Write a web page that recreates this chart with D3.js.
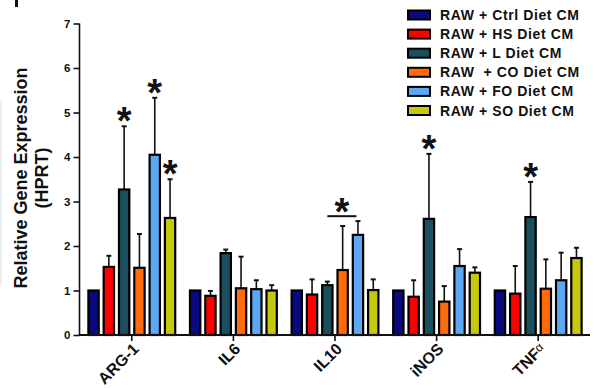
<!DOCTYPE html>
<html>
<head>
<meta charset="utf-8">
<script src="https://cdn.jsdelivr.net/npm/d3@7"></script>
<style>
  body { margin: 0; background: #fff; }
  svg { display: block; font-family: "Liberation Sans", Arial, sans-serif; }
</style>
</head>
<body>
<div id="chart"></div>
<script>
// genes on the x axis
var genes = ["ARG-1", "IL6", "IL10", "iNOS", "TNFα"];
var legendLabels = ["RAW + Ctrl Diet CM", "RAW + HS Diet CM", "RAW + L Diet CM",
                    "RAW  + CO Diet CM", "RAW + FO Diet CM", "RAW + SO Diet CM"];
var colors = ["#0a0a80", "#ff0000", "#1b4f5e", "#ff6a0a", "#5ca8f5", "#c6c80c"];

// means and upper error (SEM) per diet, one value per gene
var ctrl    = [1, 1, 1, 1, 1],               ctrlErr = [0, 0, 0, 0, 0];
var hs      = [1.53, 0.88, 0.91, 0.86, 0.93], hsErr   = [0.25, 0.11, 0.34, 0.37, 0.62];
var lDiet   = [3.27, 1.84, 1.12, 2.61, 2.65], lErr    = [1.42, 0.08, 0.08, 1.46, 0.79];
var co      = [1.51, 1.05, 1.46, 0.75, 1.04], coErr   = [0.76, 0.71, 0.99, 0.35, 0.66];
var fo      = [4.05, 1.03, 2.25, 1.55, 1.23], foErr   = [1.28, 0.20, 0.31, 0.38, 0.62];
var so      = [2.63, 1.00, 1.01, 1.40, 1.73], soErr   = [0.87, 0.12, 0.24, 0.12, 0.23];

var yTicks = [0, 1, 2, 3, 4, 5, 6, 7];
// significance marks: [gene, series index]
var stars = [["ARG-1", 2], ["ARG-1", 4], ["ARG-1", 5], ["iNOS", 2], ["TNFα", 2]];
// bracket with one star: [gene, from series, to series, level]
var brackets = [["IL10", 3, 4, 2.67]];

var means = [ctrl, hs, lDiet, co, fo, so];
var errs = [ctrlErr, hsErr, lErr, coErr, foErr, soErr];

var W = 594, H = 389;
var svg = d3.select("#chart").append("svg")
    .attr("width", W).attr("height", H);
svg.append("rect").attr("width", W).attr("height", H).attr("fill", "#fff");

// bits of the neighbouring panel left in the crop
svg.append("rect").attr("x", 15).attr("y", 0).attr("width", 3).attr("height", 7).attr("fill", "#111");
svg.append("line").attr("x1", 1).attr("x2", 1).attr("y1", 100).attr("y2", 285)
    .attr("stroke", "#ddd").attr("stroke-width", 1);

var y = d3.scaleLinear().domain([0, 7]).range([335, 23.5]);
var x0 = d3.scaleBand().domain(genes).range([81, 589]);
var x1 = d3.scaleBand().domain(d3.range(6)).range([0, x0.bandwidth()])
    .paddingInner(0.22).paddingOuter(0.43);

var data = [];
genes.forEach(function(g, gi) {
  means.forEach(function(m, si) {
    data.push({gene: g, s: si, v: m[gi], e: errs[si][gi]});
  });
});

function cx(d) { return x0(d.gene) + x1(d.s) + x1.bandwidth() / 2; }

// error bars (drawn first, bars sit on top)
var eb = svg.append("g").selectAll("g")
  .data(data.filter(function(d) { return d.e > 0; }))
  .enter().append("g");
eb.append("line")
  .attr("x1", cx).attr("x2", cx)
  .attr("y1", function(d) { return y(d.v); })
  .attr("y2", function(d) { return y(d.v + d.e); })
  .attr("stroke", "#111").attr("stroke-width", 1.6);
eb.append("line")
  .attr("x1", function(d) { return cx(d) - 2.5; })
  .attr("x2", function(d) { return cx(d) + 2.5; })
  .attr("y1", function(d) { return y(d.v + d.e); })
  .attr("y2", function(d) { return y(d.v + d.e); })
  .attr("stroke", "#111").attr("stroke-width", 2);

svg.append("g").selectAll("rect")
  .data(data).enter().append("rect")
  .attr("x", function(d) { return x0(d.gene) + x1(d.s) + 0.8; })
  .attr("width", x1.bandwidth() - 1.6)
  .attr("y", function(d) { return y(d.v); })
  .attr("height", function(d) { return y(0) - y(d.v); })
  .attr("fill", function(d) { return colors[d.s]; })
  .attr("stroke", "#000").attr("stroke-width", 2.2);

// y axis
var yAxis = svg.append("g").attr("transform", "translate(79.5,0)")
  .call(d3.axisLeft(y).tickValues(yTicks).tickSize(6).tickPadding(3).tickFormat(d3.format("d")));
yAxis.select(".domain").attr("stroke", "#111").attr("stroke-width", 1.6).attr("d", "M0," + y(7) + "V" + y(0));
yAxis.selectAll(".tick line").attr("stroke", "#111").attr("stroke-width", 1.6);
yAxis.selectAll(".tick text").attr("font-size", 11.5).attr("font-weight", "bold")
  .attr("fill", "#111").attr("font-family", "Liberation Sans, Arial, sans-serif");

// x axis
var xAxis = svg.append("g").attr("transform", "translate(0," + y(0) + ")")
  .call(d3.axisBottom(x0).tickSize(6).tickFormat(""));
xAxis.select(".domain").attr("stroke", "#111").attr("stroke-width", 2).attr("d", "M79,0H590");
xAxis.selectAll(".tick line").attr("stroke", "#111").attr("stroke-width", 1.6);

svg.append("g").selectAll("text")
  .data(genes).enter().append("text")
  .attr("transform", function(g) {
    return "translate(" + (x0(g) + x0.bandwidth() / 2 + 8) + "," + (y(0) + 15) + ") rotate(-45)";
  })
  .attr("text-anchor", "end")
  .attr("font-size", 16).attr("font-weight", "bold").attr("fill", "#111")
  .each(function(g) {
    var t = d3.select(this);
    if (g === "TNFα") {
      t.append("tspan").text("TNF");
      t.append("tspan").attr("font-size", 12).attr("font-weight", "normal").attr("dy", -3).text("α");
    } else {
      t.text(g);
    }
  });

// y title
svg.append("text")
  .attr("transform", "translate(27,178) rotate(-90)")
  .attr("text-anchor", "middle")
  .attr("font-size", 18).attr("font-weight", "bold").attr("fill", "#111")
  .text("Relative Gene Expression");
svg.append("text")
  .attr("transform", "translate(48,178) rotate(-90)")
  .attr("text-anchor", "middle")
  .attr("font-size", 18).attr("font-weight", "bold").attr("fill", "#111")
  .text("(HPRT)");

// stars
svg.append("g").selectAll("text")
  .data(stars).enter().append("text")
  .attr("x", function(s) { return cx({gene: s[0], s: s[1]}); })
  .attr("y", function(s) {
    var gi = genes.indexOf(s[0]);
    return y(means[s[1]][gi] + errs[s[1]][gi]) + 8;
  })
  .attr("text-anchor", "middle")
  .attr("font-size", 38).attr("font-weight", "bold").attr("fill", "#111")
  .text("*");

var step = x1.step();
brackets.forEach(function(b) {
  var xa = cx({gene: b[0], s: b[1]}) - step, xb = cx({gene: b[0], s: b[2]}) - step * 0.1;
  svg.append("line")
    .attr("x1", xa).attr("x2", xb).attr("y1", y(b[3])).attr("y2", y(b[3]))
    .attr("stroke", "#111").attr("stroke-width", 2);
  svg.append("text")
    .attr("x", (xa + xb) / 2).attr("y", y(b[3]) + 9)
    .attr("text-anchor", "middle")
    .attr("font-size", 38).attr("font-weight", "bold").attr("fill", "#111")
    .text("*");
});

// legend
var leg = svg.append("g").selectAll("g")
  .data(legendLabels).enter().append("g")
  .attr("transform", function(d, i) { return "translate(408," + (15 + i * 19.1) + ")"; });
leg.append("rect")
  .attr("x", 0).attr("y", -4.5).attr("width", 22).attr("height", 9)
  .attr("fill", function(d, i) { return colors[i]; })
  .attr("stroke", "#000").attr("stroke-width", 2);
leg.append("text")
  .attr("x", 32).attr("dy", "0.36em")
  .attr("font-size", 14).attr("font-weight", "bold").attr("fill", "#111")
  .attr("letter-spacing", 0.6)
  .attr("xml:space", "preserve")
  .text(function(d) { return d; });
</script>
</body>
</html>
